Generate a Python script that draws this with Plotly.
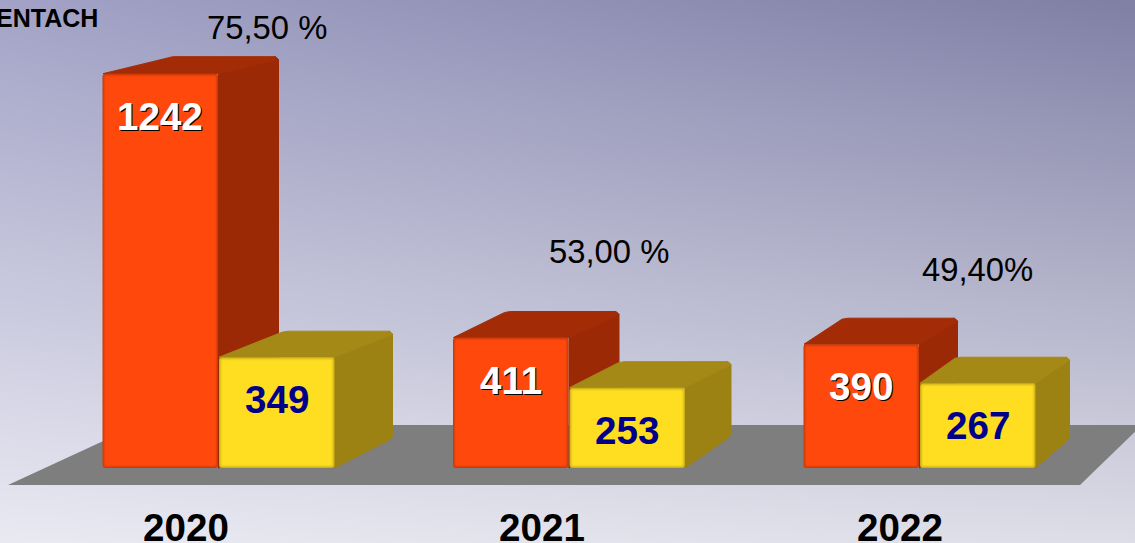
import base64, struct, zlib
import numpy as np
import plotly.graph_objects as go

# ---- data ----
years = ["2020", "2021", "2022"]
series_red = [1242, 411, 390]
series_yellow = [349, 253, 267]
percent_labels = ["75,50 %", "53,00 %", "49,40%"]
corner_label = "ENTACH"

# ---- layout constants (pixels) ----
W, H, PLOT_B = 1135, 543, 494
BASE_PX, PX_PER_UNIT = 468.0, 0.3175
GROUP0_PX, GROUP_STEP = 218.5, 350.5
BAR_W = 115.5
xr = [(0 - GROUP0_PX) / GROUP_STEP, (W - GROUP0_PX) / GROUP_STEP]
yr = [(BASE_PX - PLOT_B) / PX_PER_UNIT, BASE_PX / PX_PER_UNIT]
def X(px): return (px - GROUP0_PX) / GROUP_STEP
def Y(px): return (BASE_PX - px) / PX_PER_UNIT
def PX(i): return GROUP0_PX + GROUP_STEP * i
def PY(v): return BASE_PX - v * PX_PER_UNIT

# depth of the fake 3D boxes: (dx left, dx right, dy top, dy bottom) px
depth_red = [(67, 60, 17, 30), (54, 50, 26, 30), (41, 38, 26, 30)]
depth_yellow = [(66, 58, 26, 29), (52, 46, 26, 31), (38, 34, 26, 28)]
year_px = [186, 542, 900]
pct_px = [(267, 27), (609, 251), (977, 269)]
LABEL_DROP = 42.5
CH = 3  # chamfer of rear corners

# ---- background gradient picture ----
def gradient_png():
    w, h = W // 2, H // 2
    xx, yy = np.meshgrid(np.linspace(0, 1, w), np.linspace(0, 1, h))
    tl, tr = np.array([163, 163, 199.]), np.array([128, 128, 166.])
    bl, br = np.array([234, 234, 243.]), np.array([222, 222, 232.])
    img = np.stack([(tl[k] * (1 - xx) + tr[k] * xx) * (1 - yy) + (bl[k] * (1 - xx) + br[k] * xx) * yy
                    for k in range(3)], axis=-1).astype(np.uint8)
    raw = b"".join(b"\x00" + row.tobytes() for row in img)
    def chunk(tag, d):
        return struct.pack(">I", len(d)) + tag + d + struct.pack(">I", zlib.crc32(tag + d))
    png = b"\x89PNG\r\n\x1a\n" + chunk(b"IHDR", struct.pack(">IIBBBBB", w, h, 8, 2, 0, 0, 0)) \
        + chunk(b"IDAT", zlib.compress(raw)) + chunk(b"IEND", b"")
    return "data:image/png;base64," + base64.b64encode(png).decode()

fig = go.Figure()

# ---- side and top faces ----
def box_faces(vals, depths, sign, top_col, side_col):
    for i, (v, (dl, dr, dt, db)) in enumerate(zip(vals, depths)):
        gx = PX(i)
        left = gx - BAR_W if sign < 0 else gx + 0.5
        right = left + BAR_W
        top = PY(v)
        bx = right + dr
        side_x = [right, bx - CH, bx, bx, bx - CH, right, right]
        side_y = [top, top - dt, top - dt + CH, BASE_PX - db - CH, BASE_PX - db + 1, BASE_PX, top]
        top_x = [left, left + dl - CH, left + dl + CH, bx - CH, bx, right, left]
        top_y = [top, top - dt + 1, top - dt, top - dt, top - dt + CH, top, top]
        for xs, ys, col in ((side_x, side_y, side_col), (top_x, top_y, top_col)):
            fig.add_trace(go.Scatter(
                x=[X(p) for p in xs], y=[Y(p) for p in ys], mode="lines",
                fill="toself", fillcolor=col, line=dict(color=col, width=1),
                hoverinfo="skip", showlegend=False))

box_faces(series_red, depth_red, -1, "#A32C07", "#9B2906")
box_faces(series_yellow, depth_yellow, 1, "#A48916", "#9C8113")

# ---- front faces: stacked insets give the soft dark rim ----
def front(vals, sign, layers):
    for inset, col, rad in layers:
        fig.add_trace(go.Bar(
            x=[i + sign * (BAR_W / 2 + 0.5) / GROUP_STEP for i in range(len(vals))],
            y=[v - 2 * inset / PX_PER_UNIT for v in vals],
            base=inset / PX_PER_UNIT,
            width=(BAR_W - 2 * inset) / GROUP_STEP,
            xaxis="x2", yaxis="y2", hoverinfo="skip",
            marker=dict(color=col, line=dict(width=0), cornerradius=rad)))

front(series_red, -1, [(0, "#CC3A08", 3), (1, "#E4400A", 2), (2, "#F5460B", 2), (3, "#FF480C", 1)])
front(series_yellow, 1, [(0, "#CDB118", 3), (1, "#E3C61B", 2), (2, "#F3D31E", 2), (3, "#FFDD20", 1)])

ann = []
for i, v in enumerate(series_red):
    ann.append(dict(x=X(PX(i) - BAR_W / 2 - 0.5), y=v, xref="x", yref="y", yshift=-LABEL_DROP, text=f"<b>{v}</b>",
                    showarrow=False, font=dict(family="Liberation Sans", size=38.6, color="white",
                                               shadow="1px 1px 0px #000")))
for i, v in enumerate(series_yellow):
    ann.append(dict(x=X(PX(i) + BAR_W / 2 + 0.5), y=v, xref="x", yref="y", yshift=-LABEL_DROP, text=f"<b>{v}</b>",
                    showarrow=False, font=dict(family="Liberation Sans", size=38.6, color="#00008B")))
for t, (px, py) in zip(percent_labels, pct_px):
    ann.append(dict(x=X(px), y=Y(py), xref="x", yref="y", text=t, showarrow=False,
                    font=dict(family="Liberation Sans", size=32.8, color="#000")))
ann.append(dict(x=98 / W, y=Y(18), xref="paper", yref="y", xanchor="right", text=f"<b>{corner_label}</b>",
                showarrow=False, font=dict(family="Liberation Sans", size=25, color="#000"), xshift=2))

floor = [(8, 485), (1080, 485), (1142, 425), (138, 425)]
path = "M " + " L ".join(f"{X(a)} {Y(b)}" for a, b in floor) + " Z"

fig.update_layout(
    width=W, height=H, margin=dict(l=0, r=0, t=0, b=H - PLOT_B, autoexpand=False), autosize=False,
    showlegend=False, barmode="overlay", paper_bgcolor="#e8e8f0", plot_bgcolor="rgba(0,0,0,0)",
    xaxis=dict(range=xr, tickmode="array", tickvals=[X(p) for p in year_px], ticktext=[f"<b>{y}</b>" for y in years],
               tickfont=dict(family="Liberation Sans", size=38.6, color="#000"), automargin=False,
               showgrid=False, zeroline=False, showline=False, ticks="outside", ticklen=0),
    yaxis=dict(range=yr, visible=False, automargin=False),
    xaxis2=dict(range=xr, overlaying="x", visible=False),
    yaxis2=dict(range=yr, overlaying="y", visible=False),
    images=[dict(source=gradient_png(), xref="paper", yref="paper", x=0, y=1, sizex=1, sizey=H / PLOT_B,
                 sizing="stretch", xanchor="left", yanchor="top", layer="below")],
    shapes=[dict(type="path", path=path, xref="x", yref="y", fillcolor="#7E7E7E", line=dict(width=0), layer="below")],
    annotations=ann,
)
fig.write_html("out.html", config={"displayModeBar": False},
               post_script="document.body.style.margin='0';document.body.style.overflow='hidden';")
